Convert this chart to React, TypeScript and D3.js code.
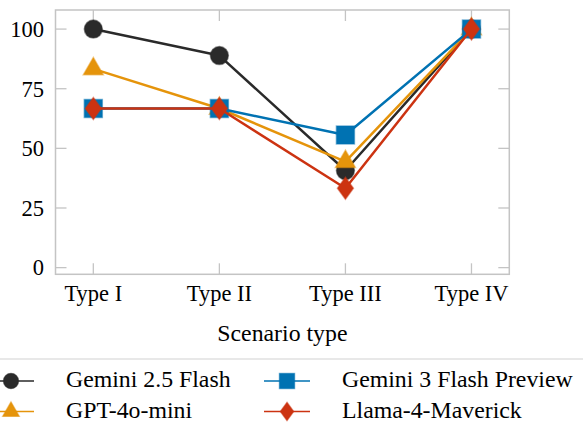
import { useEffect, useRef } from 'react';
import * as d3 from 'd3';

const categories = ['Type I', 'Type II', 'Type III', 'Type IV'];
const yTicks = [0, 25, 50, 75, 100];

const seriesNames = ['Gemini 2.5 Flash', 'GPT-4o-mini', 'Gemini 3 Flash Preview', 'Llama-4-Maverick'];
const gemini25 = [100, 88.9, 40.7, 100];
const gpt4oMini = [83.3, 66.7, 44.4, 100];
const gemini3 = [66.7, 66.7, 55.6, 100];
const llama4 = [66.7, 66.7, 33.3, 100];

const colors = ['#2a2a2a', '#e5940b', '#0072b2', '#cc3311'];
const markers = ['circle', 'triangle', 'square', 'diamond'];

const markerPath = (kind: string, s: number) => {
    // s = scale factor, 1 for plot markers
    if (kind === 'circle') {
        const r = 9 * s;
        return `M${-r},0A${r},${r} 0 1,0 ${r},0A${r},${r} 0 1,0 ${-r},0Z`;
    }
    if (kind === 'square') {
        const h = 9 * s;
        return `M${-h},${-h}H${h}V${h}H${-h}Z`;
    }
    if (kind === 'triangle') {
        const r = 11.5 * s;
        return `M0,${-r}L${r * 0.866},${r / 2}L${-r * 0.866},${r / 2}Z`;
    }
    const w = 8 * s, h = 11 * s;
    return `M0,${-h}L${w},0L0,${h}L${-w},0Z`;
};

const App = () => {
    const svgRef = useRef<SVGSVGElement>(null);

    useEffect(() => {
        const svg = d3.select(svgRef.current);
        svg.selectAll('*').remove();

        const left = 55.5, right = 509.3, top = 10, bottom = 274.3;

        const x = d3.scaleLinear().domain([-0.3, 3.3]).range([left, right]);
        const y = d3.scaleLinear().domain([-2.8, 108]).range([bottom, top]);

        const data = [gemini25, gpt4oMini, gemini3, llama4];

        // ticks (inside, mirrored)
        const axisColor = '#c4c4c4';
        const g = svg.append('g')
            .attr('font-family', 'Liberation Serif, DejaVu Serif, serif')
            .attr('font-size', 22.5);
        yTicks.forEach(t => {
            g.append('line').attr('x1', left).attr('x2', left + 11)
                .attr('y1', y(t)).attr('y2', y(t))
                .attr('stroke', axisColor).attr('stroke-width', 1.3);
            g.append('line').attr('x1', right - 11).attr('x2', right)
                .attr('y1', y(t)).attr('y2', y(t))
                .attr('stroke', axisColor).attr('stroke-width', 1.3);
            g.append('text').attr('x', 44).attr('y', y(t)).attr('dy', '0.35em')
                .attr('text-anchor', 'end')
                .text(t);
        });
        categories.forEach((c, i) => {
            g.append('line').attr('x1', x(i)).attr('x2', x(i))
                .attr('y1', bottom).attr('y2', bottom - 11)
                .attr('stroke', axisColor).attr('stroke-width', 1.3);
            g.append('line').attr('x1', x(i)).attr('x2', x(i))
                .attr('y1', top).attr('y2', top + 11)
                .attr('stroke', axisColor).attr('stroke-width', 1.3);
            g.append('text').attr('x', x(i)).attr('y', 300.7)
                .attr('text-anchor', 'middle')
                .text(c);
        });

        g.append('rect').attr('x', left).attr('y', top)
            .attr('width', right - left).attr('height', bottom - top)
            .attr('fill', 'none').attr('stroke', axisColor).attr('stroke-width', 1.5);

        g.append('text').attr('x', (left + right) / 2).attr('y', 341)
            .attr('text-anchor', 'middle').attr('font-size', 23.8)
            .text('Scenario type');

        // series
        const line = d3.line<number>().x((d, i) => x(i)).y(d => y(d));
        data.forEach((vals, k) => {
            g.append('path').datum(vals).attr('d', line)
                .attr('fill', 'none').attr('stroke', colors[k]).attr('stroke-width', 2.5)
                .attr('stroke-linejoin', 'round');
            vals.forEach((v, i) => {
                g.append('path').attr('d', markerPath(markers[k], 1))
                    .attr('transform', `translate(${x(i)},${y(v)})`)
                    .attr('fill', colors[k]).attr('stroke', colors[k])
                    .attr('stroke-opacity', 0.5).attr('stroke-width', 1.5);
            });
        });

        // legend, filled column by column
        g.append('rect').attr('x', -5).attr('y', 359).attr('width', 600).attr('height', 100)
            .attr('fill', 'white').attr('stroke', '#dcdcdc').attr('stroke-width', 1.3);

        const cols = [{ lx: 11, tx: 66 }, { lx: 287, tx: 342 }];
        const rows = [381, 411.5];
        seriesNames.forEach((name, k) => {
            const c = cols[Math.floor(k / 2)];
            const ry = rows[k % 2];
            g.append('line').attr('x1', c.lx - 23).attr('x2', c.lx + 23)
                .attr('y1', ry).attr('y2', ry)
                .attr('stroke', colors[k]).attr('stroke-width', 1.3);
            g.append('path').attr('d', markerPath(markers[k], 0.85))
                .attr('transform', `translate(${c.lx},${ry})`)
                .attr('fill', colors[k]).attr('stroke', colors[k])
                .attr('stroke-opacity', 0.5).attr('stroke-width', 1.2);
            g.append('text').attr('x', c.tx).attr('y', ry + 6).attr('font-size', 23.8)
                .text(name);
        });
    }, []);

    return (
        <svg ref={svgRef} width={583} height={430}
            style={{ position: 'absolute', left: 0, top: 0, background: 'white' }}></svg>
    );
};

export default App;
